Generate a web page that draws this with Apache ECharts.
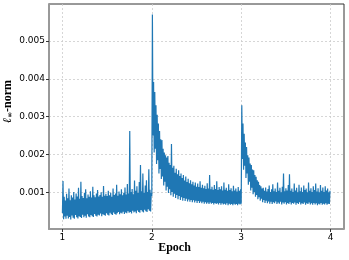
<!DOCTYPE html>
<html><head><meta charset="utf-8">
<script src="https://cdn.jsdelivr.net/npm/echarts@6/dist/echarts.min.js"></script>
<style>html,body{margin:0;padding:0;background:#fff}#c{width:349px;height:260px}</style>
</head><body><div id="c"></div>
<script>
// Epoch boundaries (x-axis) and tick labels
const xTicks = [1, 2, 3, 4];
const yTicks = [0.001, 0.002, 0.003, 0.004, 0.005];
const epochStarts = [1, 2, 3];
// l_inf-norm values per epoch (alternating trough / peak samples)
const epoch1 = [
.00045,.00130,.00029,.00088,.00036,.00078,.00030,.00096,.00038,.00084,.00031,.00110,.00035,.00079,.00028,.00092,.00039,.00086,.00033,.00101,
.00030,.00081,.00040,.00097,.00034,.00089,.00031,.00112,.00037,.00083,.00035,.00128,.00032,.00090,.00041,.00085,.00034,.00099,.00038,.00108,
.00033,.00084,.00042,.00094,.00036,.00088,.00034,.00103,.00040,.00086,.00037,.00115,.00035,.00092,.00043,.00087,.00038,.00097,.00036,.00106,
.00041,.00089,.00039,.00093,.00044,.00100,.00037,.00088,.00042,.00117,.00040,.00091,.00038,.00096,.00045,.00090,.00041,.00104,.00039,.00092,
.00046,.00099,.00042,.00088,.00040,.00110,.00047,.00093,.00043,.00097,.00041,.00120,.00045,.00091,.00048,.00102,.00042,.00095,.00046,.00108,
.00044,.00092,.00049,.00099,.00043,.00113,.00047,.00094,.00045,.00122,.00050,.00097,.00046,.00262,.00048,.00101,.00044,.00109,.00051,.00095,
.00047,.00131,.00049,.00104,.00045,.00116,.00052,.00098,.00048,.00127,.00046,.00172,.00053,.00103,.00049,.00150,.00047,.00099,.00054,.00118,
.00050,.00132,.00048,.00101,.00055,.00161,.00051,.00107,.00049,.00098
];
const epoch2 = [
.00090,.00570,.00250,.00392,.00205,.00365,.00215,.00330,.00175,.00305,.00185,.00282,.00150,.00262,.00162,.00240,.00135,.00238,.00142,.00215,
.00118,.00205,.00128,.00198,.00105,.00192,.00115,.00196,.00098,.00178,.00108,.00172,.00092,.00228,.00101,.00165,.00088,.00170,.00096,.00152,
.00085,.00162,.00093,.00148,.00082,.00158,.00090,.00143,.00080,.00150,.00087,.00138,.00078,.00146,.00085,.00131,.00077,.00142,.00083,.00127,
.00076,.00136,.00081,.00124,.00075,.00132,.00080,.00121,.00074,.00128,.00079,.00118,.00073,.00126,.00078,.00115,.00072,.00123,.00077,.00114,
.00072,.00129,.00076,.00112,.00071,.00120,.00075,.00111,.00070,.00117,.00074,.00109,.00070,.00124,.00073,.00110,.00069,.00146,.00073,.00108,
.00070,.00115,.00072,.00107,.00068,.00119,.00072,.00109,.00069,.00129,.00071,.00106,.00068,.00114,.00072,.00108,.00067,.00116,.00071,.00105,
.00068,.00126,.00070,.00107,.00067,.00112,.00071,.00104,.00066,.00121,.00070,.00106,.00067,.00111,.00069,.00103,.00066,.00117,.00070,.00105,
.00067,.00110,.00069,.00102,.00066,.00114,.00070,.00104,.00068,.00108
];
const epoch3 = [
.00070,.00330,.00188,.00282,.00160,.00255,.00170,.00232,.00138,.00220,.00150,.00198,.00120,.00192,.00128,.00176,.00105,.00172,.00112,.00160,
.00095,.00158,.00101,.00146,.00088,.00141,.00093,.00132,.00082,.00128,.00087,.00119,.00078,.00116,.00083,.00110,.00074,.00112,.00080,.00104,
.00072,.00113,.00078,.00102,.00071,.00109,.00076,.00118,.00070,.00101,.00075,.00108,.00069,.00121,.00074,.00103,.00071,.00110,.00076,.00101,
.00069,.00126,.00073,.00104,.00070,.00112,.00075,.00100,.00068,.00115,.00073,.00150,.00070,.00103,.00074,.00111,.00068,.00105,.00072,.00119,
.00069,.00148,.00074,.00104,.00068,.00110,.00072,.00101,.00070,.00123,.00073,.00105,.00067,.00112,.00072,.00100,.00069,.00120,.00074,.00103,
.00068,.00113,.00071,.00101,.00069,.00118,.00073,.00106,.00067,.00110,.00071,.00100,.00069,.00126,.00073,.00104,.00068,.00111,.00071,.00101,
.00067,.00116,.00072,.00106,.00068,.00123,.00071,.00102,.00066,.00111,.00070,.00100,.00068,.00119,.00072,.00104,.00067,.00113,.00070,.00101,
.00068,.00116,.00071,.00105,.00067,.00110,.00070,.00100,.00069,.00104
];

const data = [];
[epoch1, epoch2, epoch3].forEach((arr, e) => {
  arr.forEach((v, i) => data.push([epochStarts[e] + i / arr.length, v]));
});
data.push([4, epoch3[epoch3.length - 1]]);

const chart = echarts.init(document.getElementById('c'), null, {renderer: 'canvas'});
const tickFont = {fontFamily: 'DejaVu Sans', fontSize: 9, color: '#000'};
chart.setOption({
  animation: false,
  backgroundColor: '#fff',
  grid: {left: 49, right: 5, top: 4, bottom: 31, show: true, borderColor: '#333', borderWidth: 1},
  xAxis: {
    type: 'value', min: 0.85, max: 4.15,
    axisLine: {show: true, onZero: false, lineStyle: {color: '#999', width: 2}},
    axisTick: {show: true, length: 3, customValues: xTicks, lineStyle: {color: '#333'}},
    axisLabel: Object.assign({customValues: xTicks, margin: 4, formatter: v => String(v)}, tickFont),
    splitLine: {show: true, lineStyle: {color: '#ccc', type: [2, 2], width: 0.8}}
  },
  yAxis: {
    type: 'value', min: 0.00003, max: 0.00598,
    axisLine: {show: true, onZero: false, lineStyle: {color: '#999', width: 2}},
    axisTick: {show: true, length: 3, customValues: yTicks, lineStyle: {color: '#333'}},
    axisLabel: Object.assign({customValues: yTicks, margin: 4, formatter: v => v.toFixed(3)}, tickFont),
    splitLine: {show: true, lineStyle: {color: '#ccc', type: [2, 2], width: 0.8}}
  },
  series: [{
    type: 'line', data: data, showSymbol: false, sampling: null,
    lineStyle: {color: '#1f77b4', width: 1.2}, itemStyle: {color: '#1f77b4'}
  }],
  graphic: [
    {type: 'text', left: 'center', x: 0, top: 242, style: {text: 'Epoch', font: 'bold 12px "Liberation Serif"', fill: '#000'}},
    {type: 'text', x: 2, y: 123, rotation: Math.PI / 2,
     style: {text: '{l|ℓ}{s|∞}{n|-norm}', fill: '#000',
       rich: {l: {font: 'bold italic 12px "Liberation Serif"'}, s: {font: 'bold 7px "DejaVu Sans"', padding: [5, 0, 0, 0]}, n: {font: 'bold 12px "Liberation Serif"'}}}}
  ]
});
</script></body></html>
